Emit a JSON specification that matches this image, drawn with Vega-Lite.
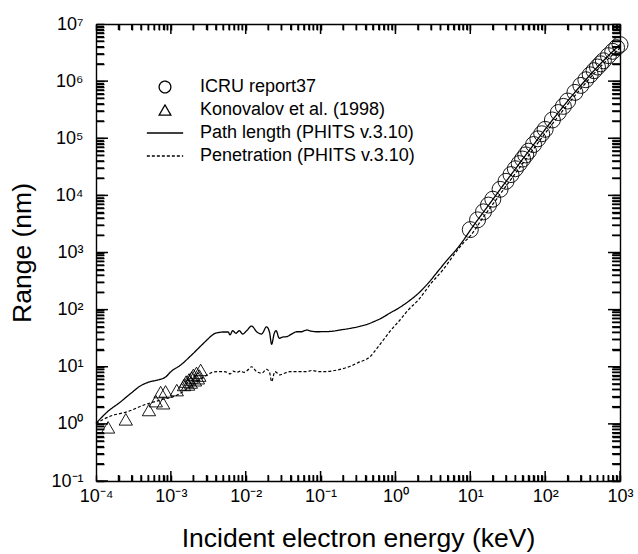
{
  "$schema": "https://vega.github.io/schema/vega-lite/v6.json",
  "width": 524,
  "height": 457,
  "autosize": {"type": "none"},
  "padding": {"left": 96, "top": 24, "right": 18, "bottom": 73},
  "background": "white",
  "config": {
    "font": "Liberation Sans",
    "view": {"stroke": null},
    "axis": {"ticks": true, "tickColor": "black", "tickWidth": 1.5, "tickOpacity": 1, "domainColor": "black", "domainWidth": 1.4, "grid": false}
  },
  "datasets": {
    "xt": [
      {"E": 0.0001, "major": true}, {"E": 0.0002, "major": false}, {"E": 0.0003, "major": false}, {"E": 0.0004, "major": false}, {"E": 0.0005, "major": false}, {"E": 0.0006, "major": false}, {"E": 0.0007, "major": false}, {"E": 0.0008, "major": false}, {"E": 0.0009, "major": false},
      {"E": 0.001, "major": true}, {"E": 0.002, "major": false}, {"E": 0.003, "major": false}, {"E": 0.004, "major": false}, {"E": 0.005, "major": false}, {"E": 0.006, "major": false}, {"E": 0.007, "major": false}, {"E": 0.008, "major": false}, {"E": 0.009, "major": false},
      {"E": 0.01, "major": true}, {"E": 0.02, "major": false}, {"E": 0.03, "major": false}, {"E": 0.04, "major": false}, {"E": 0.05, "major": false}, {"E": 0.06, "major": false}, {"E": 0.07, "major": false}, {"E": 0.08, "major": false}, {"E": 0.09, "major": false},
      {"E": 0.1, "major": true}, {"E": 0.2, "major": false}, {"E": 0.3, "major": false}, {"E": 0.4, "major": false}, {"E": 0.5, "major": false}, {"E": 0.6, "major": false}, {"E": 0.7, "major": false}, {"E": 0.8, "major": false}, {"E": 0.9, "major": false},
      {"E": 1, "major": true}, {"E": 2, "major": false}, {"E": 3, "major": false}, {"E": 4, "major": false}, {"E": 5, "major": false}, {"E": 6, "major": false}, {"E": 7, "major": false}, {"E": 8, "major": false}, {"E": 9, "major": false},
      {"E": 10, "major": true}, {"E": 20, "major": false}, {"E": 30, "major": false}, {"E": 40, "major": false}, {"E": 50, "major": false}, {"E": 60, "major": false}, {"E": 70, "major": false}, {"E": 80, "major": false}, {"E": 90, "major": false},
      {"E": 100, "major": true}, {"E": 200, "major": false}, {"E": 300, "major": false}, {"E": 400, "major": false}, {"E": 500, "major": false}, {"E": 600, "major": false}, {"E": 700, "major": false}, {"E": 800, "major": false}, {"E": 900, "major": false},
      {"E": 1000, "major": true}
    ],
    "yt": [
      {"R": 0.1, "major": true}, {"R": 0.2, "major": false}, {"R": 0.3, "major": false}, {"R": 0.4, "major": false}, {"R": 0.5, "major": false}, {"R": 0.6, "major": false}, {"R": 0.7, "major": false}, {"R": 0.8, "major": false}, {"R": 0.9, "major": false},
      {"R": 1, "major": true}, {"R": 2, "major": false}, {"R": 3, "major": false}, {"R": 4, "major": false}, {"R": 5, "major": false}, {"R": 6, "major": false}, {"R": 7, "major": false}, {"R": 8, "major": false}, {"R": 9, "major": false},
      {"R": 10, "major": true}, {"R": 20, "major": false}, {"R": 30, "major": false}, {"R": 40, "major": false}, {"R": 50, "major": false}, {"R": 60, "major": false}, {"R": 70, "major": false}, {"R": 80, "major": false}, {"R": 90, "major": false},
      {"R": 100, "major": true}, {"R": 200, "major": false}, {"R": 300, "major": false}, {"R": 400, "major": false}, {"R": 500, "major": false}, {"R": 600, "major": false}, {"R": 700, "major": false}, {"R": 800, "major": false}, {"R": 900, "major": false},
      {"R": 1000, "major": true}, {"R": 2000, "major": false}, {"R": 3000, "major": false}, {"R": 4000, "major": false}, {"R": 5000, "major": false}, {"R": 6000, "major": false}, {"R": 7000, "major": false}, {"R": 8000, "major": false}, {"R": 9000, "major": false},
      {"R": 10000, "major": true}, {"R": 20000, "major": false}, {"R": 30000, "major": false}, {"R": 40000, "major": false}, {"R": 50000, "major": false}, {"R": 60000, "major": false}, {"R": 70000, "major": false}, {"R": 80000, "major": false}, {"R": 90000, "major": false},
      {"R": 100000, "major": true}, {"R": 200000, "major": false}, {"R": 300000, "major": false}, {"R": 400000, "major": false}, {"R": 500000, "major": false}, {"R": 600000, "major": false}, {"R": 700000, "major": false}, {"R": 800000, "major": false}, {"R": 900000, "major": false},
      {"R": 1000000, "major": true}, {"R": 2000000, "major": false}, {"R": 3000000, "major": false}, {"R": 4000000, "major": false}, {"R": 5000000, "major": false}, {"R": 6000000, "major": false}, {"R": 7000000, "major": false}, {"R": 8000000, "major": false}, {"R": 9000000, "major": false},
      {"R": 10000000, "major": true}
    ],
    "path": [
      {"series": "Path length (PHITS v.3.10)", "E": 0.0001, "R": 1.02}, {"series": "Path length (PHITS v.3.10)", "E": 0.00014, "R": 1.6},
      {"series": "Path length (PHITS v.3.10)", "E": 0.00021, "R": 2.4}, {"series": "Path length (PHITS v.3.10)", "E": 0.00029, "R": 3.4},
      {"series": "Path length (PHITS v.3.10)", "E": 0.0004, "R": 4.7}, {"series": "Path length (PHITS v.3.10)", "E": 0.00051, "R": 5.4},
      {"series": "Path length (PHITS v.3.10)", "E": 0.00065, "R": 5.8}, {"series": "Path length (PHITS v.3.10)", "E": 0.00075, "R": 6.1},
      {"series": "Path length (PHITS v.3.10)", "E": 0.00085, "R": 6.6}, {"series": "Path length (PHITS v.3.10)", "E": 0.001, "R": 8.2},
      {"series": "Path length (PHITS v.3.10)", "E": 0.00135, "R": 10.7}, {"series": "Path length (PHITS v.3.10)", "E": 0.00184, "R": 15.5},
      {"series": "Path length (PHITS v.3.10)", "E": 0.0025, "R": 23}, {"series": "Path length (PHITS v.3.10)", "E": 0.003, "R": 29},
      {"series": "Path length (PHITS v.3.10)", "E": 0.0035, "R": 35}, {"series": "Path length (PHITS v.3.10)", "E": 0.0039, "R": 38.5},
      {"series": "Path length (PHITS v.3.10)", "E": 0.0045, "R": 40}, {"series": "Path length (PHITS v.3.10)", "E": 0.005, "R": 40.6},
      {"series": "Path length (PHITS v.3.10)", "E": 0.00585, "R": 40.6}, {"series": "Path length (PHITS v.3.10)", "E": 0.00616, "R": 36},
      {"series": "Path length (PHITS v.3.10)", "E": 0.0067, "R": 42.8}, {"series": "Path length (PHITS v.3.10)", "E": 0.0074, "R": 38.5},
      {"series": "Path length (PHITS v.3.10)", "E": 0.0082, "R": 42.8}, {"series": "Path length (PHITS v.3.10)", "E": 0.0091, "R": 37.4},
      {"series": "Path length (PHITS v.3.10)", "E": 0.0103, "R": 42.8}, {"series": "Path length (PHITS v.3.10)", "E": 0.012, "R": 51.6},
      {"series": "Path length (PHITS v.3.10)", "E": 0.014, "R": 41}, {"series": "Path length (PHITS v.3.10)", "E": 0.0163, "R": 37.4},
      {"series": "Path length (PHITS v.3.10)", "E": 0.019, "R": 50}, {"series": "Path length (PHITS v.3.10)", "E": 0.0208, "R": 40},
      {"series": "Path length (PHITS v.3.10)", "E": 0.0222, "R": 24.7}, {"series": "Path length (PHITS v.3.10)", "E": 0.024, "R": 38},
      {"series": "Path length (PHITS v.3.10)", "E": 0.0254, "R": 43}, {"series": "Path length (PHITS v.3.10)", "E": 0.0281, "R": 31.5},
      {"series": "Path length (PHITS v.3.10)", "E": 0.031, "R": 33}, {"series": "Path length (PHITS v.3.10)", "E": 0.0352, "R": 33.6},
      {"series": "Path length (PHITS v.3.10)", "E": 0.042, "R": 38}, {"series": "Path length (PHITS v.3.10)", "E": 0.048, "R": 41},
      {"series": "Path length (PHITS v.3.10)", "E": 0.055, "R": 41}, {"series": "Path length (PHITS v.3.10)", "E": 0.065, "R": 44},
      {"series": "Path length (PHITS v.3.10)", "E": 0.075, "R": 42}, {"series": "Path length (PHITS v.3.10)", "E": 0.089, "R": 41},
      {"series": "Path length (PHITS v.3.10)", "E": 0.134, "R": 41.5}, {"series": "Path length (PHITS v.3.10)", "E": 0.182, "R": 44},
      {"series": "Path length (PHITS v.3.10)", "E": 0.25, "R": 47}, {"series": "Path length (PHITS v.3.10)", "E": 0.336, "R": 51},
      {"series": "Path length (PHITS v.3.10)", "E": 0.43, "R": 56}, {"series": "Path length (PHITS v.3.10)", "E": 0.52, "R": 62},
      {"series": "Path length (PHITS v.3.10)", "E": 0.65, "R": 71}, {"series": "Path length (PHITS v.3.10)", "E": 0.845, "R": 87},
      {"series": "Path length (PHITS v.3.10)", "E": 1.15, "R": 110}, {"series": "Path length (PHITS v.3.10)", "E": 1.5, "R": 140},
      {"series": "Path length (PHITS v.3.10)", "E": 2.0, "R": 190}, {"series": "Path length (PHITS v.3.10)", "E": 2.8, "R": 300},
      {"series": "Path length (PHITS v.3.10)", "E": 3.7, "R": 470}, {"series": "Path length (PHITS v.3.10)", "E": 5.0, "R": 760},
      {"series": "Path length (PHITS v.3.10)", "E": 6.6, "R": 1150}, {"series": "Path length (PHITS v.3.10)", "E": 8.0, "R": 1600},
      {"series": "Path length (PHITS v.3.10)", "E": 10, "R": 2450}, {"series": "Path length (PHITS v.3.10)", "E": 12.5, "R": 3700},
      {"series": "Path length (PHITS v.3.10)", "E": 15, "R": 5100}, {"series": "Path length (PHITS v.3.10)", "E": 20, "R": 8500},
      {"series": "Path length (PHITS v.3.10)", "E": 30, "R": 17500}, {"series": "Path length (PHITS v.3.10)", "E": 40, "R": 29000},
      {"series": "Path length (PHITS v.3.10)", "E": 50, "R": 43000}, {"series": "Path length (PHITS v.3.10)", "E": 70, "R": 77000},
      {"series": "Path length (PHITS v.3.10)", "E": 100, "R": 143000}, {"series": "Path length (PHITS v.3.10)", "E": 150, "R": 281000},
      {"series": "Path length (PHITS v.3.10)", "E": 200, "R": 449000}, {"series": "Path length (PHITS v.3.10)", "E": 300, "R": 842000},
      {"series": "Path length (PHITS v.3.10)", "E": 400, "R": 1290000}, {"series": "Path length (PHITS v.3.10)", "E": 500, "R": 1770000},
      {"series": "Path length (PHITS v.3.10)", "E": 700, "R": 2790000}, {"series": "Path length (PHITS v.3.10)", "E": 1000, "R": 4370000}
    ],
    "pen": [
      {"series": "Penetration (PHITS v.3.10)", "E": 0.0001, "R": 1.02}, {"series": "Penetration (PHITS v.3.10)", "E": 0.000157, "R": 1.37},
      {"series": "Penetration (PHITS v.3.10)", "E": 0.000262, "R": 1.63}, {"series": "Penetration (PHITS v.3.10)", "E": 0.000437, "R": 2.14},
      {"series": "Penetration (PHITS v.3.10)", "E": 0.00073, "R": 2.62}, {"series": "Penetration (PHITS v.3.10)", "E": 0.00122, "R": 3.2},
      {"series": "Penetration (PHITS v.3.10)", "E": 0.0016, "R": 4.0}, {"series": "Penetration (PHITS v.3.10)", "E": 0.00204, "R": 5.1},
      {"series": "Penetration (PHITS v.3.10)", "E": 0.0027, "R": 6.6}, {"series": "Penetration (PHITS v.3.10)", "E": 0.00307, "R": 7.2},
      {"series": "Penetration (PHITS v.3.10)", "E": 0.0035, "R": 7.9}, {"series": "Penetration (PHITS v.3.10)", "E": 0.00417, "R": 8.2},
      {"series": "Penetration (PHITS v.3.10)", "E": 0.005, "R": 8.2}, {"series": "Penetration (PHITS v.3.10)", "E": 0.0056, "R": 8.0},
      {"series": "Penetration (PHITS v.3.10)", "E": 0.0062, "R": 7.5}, {"series": "Penetration (PHITS v.3.10)", "E": 0.0068, "R": 8.4},
      {"series": "Penetration (PHITS v.3.10)", "E": 0.0076, "R": 8.0}, {"series": "Penetration (PHITS v.3.10)", "E": 0.0085, "R": 8.4},
      {"series": "Penetration (PHITS v.3.10)", "E": 0.0095, "R": 8.0}, {"series": "Penetration (PHITS v.3.10)", "E": 0.0105, "R": 8.6},
      {"series": "Penetration (PHITS v.3.10)", "E": 0.012, "R": 10.0}, {"series": "Penetration (PHITS v.3.10)", "E": 0.014, "R": 8.2},
      {"series": "Penetration (PHITS v.3.10)", "E": 0.0163, "R": 7.7}, {"series": "Penetration (PHITS v.3.10)", "E": 0.019, "R": 9.0},
      {"series": "Penetration (PHITS v.3.10)", "E": 0.0208, "R": 8.0}, {"series": "Penetration (PHITS v.3.10)", "E": 0.0222, "R": 5.5},
      {"series": "Penetration (PHITS v.3.10)", "E": 0.0245, "R": 8.2}, {"series": "Penetration (PHITS v.3.10)", "E": 0.0287, "R": 7.2},
      {"series": "Penetration (PHITS v.3.10)", "E": 0.032, "R": 7.6}, {"series": "Penetration (PHITS v.3.10)", "E": 0.039, "R": 8.2},
      {"series": "Penetration (PHITS v.3.10)", "E": 0.065, "R": 8.2}, {"series": "Penetration (PHITS v.3.10)", "E": 0.076, "R": 8.6},
      {"series": "Penetration (PHITS v.3.10)", "E": 0.098, "R": 8.2}, {"series": "Penetration (PHITS v.3.10)", "E": 0.109, "R": 8.2},
      {"series": "Penetration (PHITS v.3.10)", "E": 0.182, "R": 9.0}, {"series": "Penetration (PHITS v.3.10)", "E": 0.25, "R": 10.2},
      {"series": "Penetration (PHITS v.3.10)", "E": 0.336, "R": 12.2}, {"series": "Penetration (PHITS v.3.10)", "E": 0.41, "R": 13.5},
      {"series": "Penetration (PHITS v.3.10)", "E": 0.457, "R": 15}, {"series": "Penetration (PHITS v.3.10)", "E": 0.55, "R": 20},
      {"series": "Penetration (PHITS v.3.10)", "E": 0.69, "R": 29.4}, {"series": "Penetration (PHITS v.3.10)", "E": 0.85, "R": 42},
      {"series": "Penetration (PHITS v.3.10)", "E": 1.15, "R": 65.8}, {"series": "Penetration (PHITS v.3.10)", "E": 1.5, "R": 100},
      {"series": "Penetration (PHITS v.3.10)", "E": 2.02, "R": 147}, {"series": "Penetration (PHITS v.3.10)", "E": 3.0, "R": 290},
      {"series": "Penetration (PHITS v.3.10)", "E": 4.3, "R": 494}, {"series": "Penetration (PHITS v.3.10)", "E": 6.0, "R": 900},
      {"series": "Penetration (PHITS v.3.10)", "E": 8.0, "R": 1450}, {"series": "Penetration (PHITS v.3.10)", "E": 10, "R": 1950},
      {"series": "Penetration (PHITS v.3.10)", "E": 15, "R": 4200}, {"series": "Penetration (PHITS v.3.10)", "E": 20, "R": 7000},
      {"series": "Penetration (PHITS v.3.10)", "E": 30, "R": 14500}, {"series": "Penetration (PHITS v.3.10)", "E": 50, "R": 36000},
      {"series": "Penetration (PHITS v.3.10)", "E": 100, "R": 122000}, {"series": "Penetration (PHITS v.3.10)", "E": 200, "R": 390000},
      {"series": "Penetration (PHITS v.3.10)", "E": 300, "R": 740000}, {"series": "Penetration (PHITS v.3.10)", "E": 500, "R": 1580000},
      {"series": "Penetration (PHITS v.3.10)", "E": 1000, "R": 3800000}
    ],
    "icru": [
      {"series": "ICRU report37", "E": 10, "R": 2515}, {"series": "ICRU report37", "E": 12.5, "R": 3728},
      {"series": "ICRU report37", "E": 15, "R": 5147}, {"series": "ICRU report37", "E": 17.5, "R": 6762},
      {"series": "ICRU report37", "E": 20, "R": 8575}, {"series": "ICRU report37", "E": 25, "R": 12760},
      {"series": "ICRU report37", "E": 30, "R": 17620}, {"series": "ICRU report37", "E": 35, "R": 23130},
      {"series": "ICRU report37", "E": 40, "R": 29260}, {"series": "ICRU report37", "E": 45, "R": 35990},
      {"series": "ICRU report37", "E": 50, "R": 43200}, {"series": "ICRU report37", "E": 55, "R": 51120},
      {"series": "ICRU report37", "E": 60, "R": 59340}, {"series": "ICRU report37", "E": 70, "R": 77610},
      {"series": "ICRU report37", "E": 80, "R": 97790}, {"series": "ICRU report37", "E": 90, "R": 119800},
      {"series": "ICRU report37", "E": 100, "R": 143100}, {"series": "ICRU report37", "E": 125, "R": 208700},
      {"series": "ICRU report37", "E": 150, "R": 281700}, {"series": "ICRU report37", "E": 175, "R": 361300},
      {"series": "ICRU report37", "E": 200, "R": 448800}, {"series": "ICRU report37", "E": 250, "R": 634900},
      {"series": "ICRU report37", "E": 300, "R": 842100}, {"series": "ICRU report37", "E": 350, "R": 1058000},
      {"series": "ICRU report37", "E": 400, "R": 1288000}, {"series": "ICRU report37", "E": 450, "R": 1523000},
      {"series": "ICRU report37", "E": 500, "R": 1766000}, {"series": "ICRU report37", "E": 550, "R": 2012000},
      {"series": "ICRU report37", "E": 600, "R": 2272000}, {"series": "ICRU report37", "E": 700, "R": 2793000},
      {"series": "ICRU report37", "E": 800, "R": 3322000}, {"series": "ICRU report37", "E": 900, "R": 3858000},
      {"series": "ICRU report37", "E": 1000, "R": 4367000}
    ],
    "kono": [
      {"series": "Konovalov et al. (1998)", "E": 0.000145, "R": 0.87},
      {"series": "Konovalov et al. (1998)", "E": 0.00025, "R": 1.2},
      {"series": "Konovalov et al. (1998)", "E": 0.00051, "R": 1.75},
      {"series": "Konovalov et al. (1998)", "E": 0.00063, "R": 2.5},
      {"series": "Konovalov et al. (1998)", "E": 0.00079, "R": 2.3},
      {"series": "Konovalov et al. (1998)", "E": 0.00073, "R": 3.6},
      {"series": "Konovalov et al. (1998)", "E": 0.00085, "R": 3.7},
      {"series": "Konovalov et al. (1998)", "E": 0.0012, "R": 3.9},
      {"series": "Konovalov et al. (1998)", "E": 0.0015, "R": 4.8},
      {"series": "Konovalov et al. (1998)", "E": 0.0016, "R": 5.5},
      {"series": "Konovalov et al. (1998)", "E": 0.00175, "R": 6.0},
      {"series": "Konovalov et al. (1998)", "E": 0.0019, "R": 6.5},
      {"series": "Konovalov et al. (1998)", "E": 0.002, "R": 7.2},
      {"series": "Konovalov et al. (1998)", "E": 0.0022, "R": 7.8},
      {"series": "Konovalov et al. (1998)", "E": 0.0025, "R": 8.8},
      {"series": "Konovalov et al. (1998)", "E": 0.0017, "R": 4.9},
      {"series": "Konovalov et al. (1998)", "E": 0.0021, "R": 5.8},
      {"series": "Konovalov et al. (1998)", "E": 0.0023, "R": 6.3},
      {"series": "Konovalov et al. (1998)", "E": 0.00185, "R": 5.3},
      {"series": "Konovalov et al. (1998)", "E": 0.0024, "R": 7.0}
    ]
  },
  "layer": [
    {
      "data": {"name": "xt"}, "transform": [{"filter": "datum.major"}],
      "mark": {"type": "tick", "orient": "vertical", "clip": true, "color": "black", "thickness": 1.5, "opacity": 1, "size": 20},
      "encoding": {
        "x": {"field": "E", "type": "quantitative", "scale": {"type": "log", "domain": [0.0001, 1000]}, "axis": null},
        "y": {"datum": 0.1, "type": "quantitative", "scale": {"type": "log", "domain": [0.1, 10000000]}, "axis": null}
      }
    },
    {
      "data": {"name": "xt"}, "transform": [{"filter": "!datum.major"}],
      "mark": {"type": "tick", "orient": "vertical", "clip": true, "color": "black", "thickness": 1.5, "opacity": 1, "size": 12},
      "encoding": {
        "x": {"field": "E", "type": "quantitative", "axis": null},
        "y": {"datum": 0.1, "type": "quantitative", "axis": null}
      }
    },
    {
      "data": {"name": "xt"}, "transform": [{"filter": "datum.major"}],
      "mark": {"type": "tick", "orient": "vertical", "clip": true, "color": "black", "thickness": 1.5, "opacity": 1, "size": 20},
      "encoding": {
        "x": {"field": "E", "type": "quantitative", "axis": null},
        "y": {"datum": 10000000, "type": "quantitative", "axis": null}
      }
    },
    {
      "data": {"name": "xt"}, "transform": [{"filter": "!datum.major"}],
      "mark": {"type": "tick", "orient": "vertical", "clip": true, "color": "black", "thickness": 1.5, "opacity": 1, "size": 12},
      "encoding": {
        "x": {"field": "E", "type": "quantitative", "axis": null},
        "y": {"datum": 10000000, "type": "quantitative", "axis": null}
      }
    },
    {
      "data": {"name": "yt"}, "transform": [{"filter": "datum.major"}],
      "mark": {"type": "tick", "orient": "horizontal", "clip": true, "color": "black", "thickness": 1.5, "opacity": 1, "size": 24},
      "encoding": {
        "y": {"field": "R", "type": "quantitative", "axis": null},
        "x": {"datum": 0.0001, "type": "quantitative", "axis": null}
      }
    },
    {
      "data": {"name": "yt"}, "transform": [{"filter": "!datum.major"}],
      "mark": {"type": "tick", "orient": "horizontal", "clip": true, "color": "black", "thickness": 1.5, "opacity": 1, "size": 16},
      "encoding": {
        "y": {"field": "R", "type": "quantitative", "axis": null},
        "x": {"datum": 0.0001, "type": "quantitative", "axis": null}
      }
    },
    {
      "data": {"name": "yt"}, "transform": [{"filter": "datum.major"}],
      "mark": {"type": "tick", "orient": "horizontal", "clip": true, "color": "black", "thickness": 1.5, "opacity": 1, "size": 24},
      "encoding": {
        "y": {"field": "R", "type": "quantitative", "axis": null},
        "x": {"datum": 1000, "type": "quantitative", "axis": null}
      }
    },
    {
      "data": {"name": "yt"}, "transform": [{"filter": "!datum.major"}],
      "mark": {"type": "tick", "orient": "horizontal", "clip": true, "color": "black", "thickness": 1.5, "opacity": 1, "size": 16},
      "encoding": {
        "y": {"field": "R", "type": "quantitative", "axis": null},
        "x": {"datum": 1000, "type": "quantitative", "axis": null}
      }
    },
    {
      "data": {"name": "icru"},
      "mark": {"type": "point", "filled": false, "color": "black", "size": 256, "strokeWidth": 0.9, "opacity": 1},
      "encoding": {
        "x": {"field": "E", "type": "quantitative", "axis": null},
        "y": {"field": "R", "type": "quantitative", "axis": null},
        "shape": {
          "field": "series", "type": "nominal",
          "scale": {"domain": ["ICRU report37", "Konovalov et al. (1998)", "Path length (PHITS v.3.10)", "Penetration (PHITS v.3.10)"],
                    "range": ["circle", "triangle-up", "M-3.1,0H3.1", "M-3.1,0H3.1"]},
          "legend": {
            "orient": "none", "legendX": 60, "legendY": 54, "title": null, "padding": 0,
            "symbolSize": 137, "symbolStrokeWidth": 1.3, "symbolStrokeColor": "black", "symbolFillColor": "transparent",
            "labelFont": "Liberation Sans", "labelFontSize": 18, "labelColor": "black", "labelOffset": 26,
            "rowPadding": 5, "labelLimit": 400
          }
        }
      }
    },
    {
      "data": {"name": "kono"},
      "mark": {"type": "point", "filled": false, "color": "black", "size": 177, "strokeWidth": 0.9, "opacity": 1},
      "encoding": {
        "x": {"field": "E", "type": "quantitative", "axis": null},
        "y": {"field": "R", "type": "quantitative", "axis": null},
        "shape": {"field": "series", "type": "nominal"}
      }
    },
    {
      "data": {"name": "pen"},
      "mark": {"type": "line", "color": "black", "strokeWidth": 1.2, "interpolate": "monotone"},
      "encoding": {
        "strokeDash": {
          "field": "series", "type": "nominal",
          "scale": {"domain": ["ICRU report37", "Konovalov et al. (1998)", "Path length (PHITS v.3.10)", "Penetration (PHITS v.3.10)"],
                    "range": [[1, 0], [1, 0], [1, 0], [3, 2]]},
          "legend": {
            "orient": "none", "legendX": 60, "legendY": 54, "title": null, "padding": 0,
            "symbolSize": 137, "symbolStrokeWidth": 1.3, "symbolStrokeColor": "black", "symbolFillColor": "transparent",
            "labelFont": "Liberation Sans", "labelFontSize": 18, "labelColor": "black", "labelOffset": 26,
            "rowPadding": 5, "labelLimit": 400
          }
        },
        "x": {"field": "E", "type": "quantitative",
          "axis": {"orient": "top", "labels": false, "title": null, "ticks": true,
            "values": [0.0001,0.0002,0.0003,0.0004,0.0005,0.0006,0.0007,0.0008,0.0009,0.001,0.002,0.003,0.004,0.005,0.006,0.007,0.008,0.009,0.01,0.02,0.03,0.04,0.05,0.06,0.07,0.08,0.09,0.1,0.2,0.3,0.4,0.5,0.6,0.7,0.8,0.9,1,2,3,4,5,6,7,8,9,10,20,30,40,50,60,70,80,90,100,200,300,400,500,600,700,800,900,1000],
            "tickSize": -6,
            "encode": {"ticks": {"update": {"y2": {"signal": "abs(log(datum.value)/LN10 - round(log(datum.value)/LN10)) < 0.001 ? 10 : 6"}}}}}},
        "y": {"field": "R", "type": "quantitative",
          "axis": {"orient": "right", "labels": false, "title": null, "ticks": true,
            "values": [0.1,0.2,0.3,0.4,0.5,0.6,0.7,0.8,0.9,1,2,3,4,5,6,7,8,9,10,20,30,40,50,60,70,80,90,100,200,300,400,500,600,700,800,900,1000,2000,3000,4000,5000,6000,7000,8000,9000,10000,20000,30000,40000,50000,60000,70000,80000,90000,100000,200000,300000,400000,500000,600000,700000,800000,900000,1000000,2000000,3000000,4000000,5000000,6000000,7000000,8000000,9000000,10000000],
            "tickSize": -8,
            "encode": {"ticks": {"update": {"x2": {"signal": "abs(log(datum.value)/LN10 - round(log(datum.value)/LN10)) < 0.001 ? -12 : -8"}}}}}}
      }
    },
    {
      "data": {"name": "path"},
      "mark": {"type": "line", "color": "black", "strokeWidth": 1.3, "interpolate": "monotone"},
      "encoding": {
        "strokeDash": {"field": "series", "type": "nominal"},
        "x": {"field": "E", "type": "quantitative",
          "axis": {"orient": "bottom", "ticks": true,
            "values": [0.0001,0.0002,0.0003,0.0004,0.0005,0.0006,0.0007,0.0008,0.0009,0.001,0.002,0.003,0.004,0.005,0.006,0.007,0.008,0.009,0.01,0.02,0.03,0.04,0.05,0.06,0.07,0.08,0.09,0.1,0.2,0.3,0.4,0.5,0.6,0.7,0.8,0.9,1,2,3,4,5,6,7,8,9,10,20,30,40,50,60,70,80,90,100,200,300,400,500,600,700,800,900,1000],
            "labelExpr": "abs(log(datum.value)/LN10 - round(log(datum.value)/LN10)) < 0.001 ? '10' + (round(log(datum.value)/LN10) < 0 ? '⁻' : '') + ['⁰','¹','²','³','⁴','⁵','⁶','⁷'][abs(round(log(datum.value)/LN10))] : ''",
            "labelFont": "Liberation Sans", "labelFontSize": 18, "labelColor": "black", "labelPadding": 12,
            "labelFlush": false, "labelOverlap": false, "labelBound": false,
            "tickSize": -6,
            "encode": {"ticks": {"update": {"y2": {"signal": "abs(log(datum.value)/LN10 - round(log(datum.value)/LN10)) < 0.001 ? -10 : -6"}}}},
            "title": "Incident electron energy (keV)", "titleFont": "Liberation Sans", "titleFontSize": 26.5,
            "titleFontWeight": "normal", "titleColor": "black", "titlePadding": 20}},
        "y": {"field": "R", "type": "quantitative",
          "axis": {"orient": "left", "ticks": true,
            "values": [0.1,0.2,0.3,0.4,0.5,0.6,0.7,0.8,0.9,1,2,3,4,5,6,7,8,9,10,20,30,40,50,60,70,80,90,100,200,300,400,500,600,700,800,900,1000,2000,3000,4000,5000,6000,7000,8000,9000,10000,20000,30000,40000,50000,60000,70000,80000,90000,100000,200000,300000,400000,500000,600000,700000,800000,900000,1000000,2000000,3000000,4000000,5000000,6000000,7000000,8000000,9000000,10000000],
            "labelExpr": "abs(log(datum.value)/LN10 - round(log(datum.value)/LN10)) < 0.001 ? '10' + (round(log(datum.value)/LN10) < 0 ? '⁻' : '') + ['⁰','¹','²','³','⁴','⁵','⁶','⁷'][abs(round(log(datum.value)/LN10))] : ''",
            "labelFont": "Liberation Sans", "labelFontSize": 18, "labelColor": "black", "labelPadding": 21,
            "labelFlush": false, "labelOverlap": false, "labelBound": false,
            "tickSize": -8,
            "encode": {"ticks": {"update": {"x2": {"signal": "abs(log(datum.value)/LN10 - round(log(datum.value)/LN10)) < 0.001 ? 12 : 8"}}}},
            "title": "Range (nm)", "titleFont": "Liberation Sans", "titleFontSize": 26.5,
            "titleFontWeight": "normal", "titleColor": "black", "titlePadding": 14}}
      }
    }
  ],
  "resolve": {"axis": {"x": "independent", "y": "independent"}}
}
